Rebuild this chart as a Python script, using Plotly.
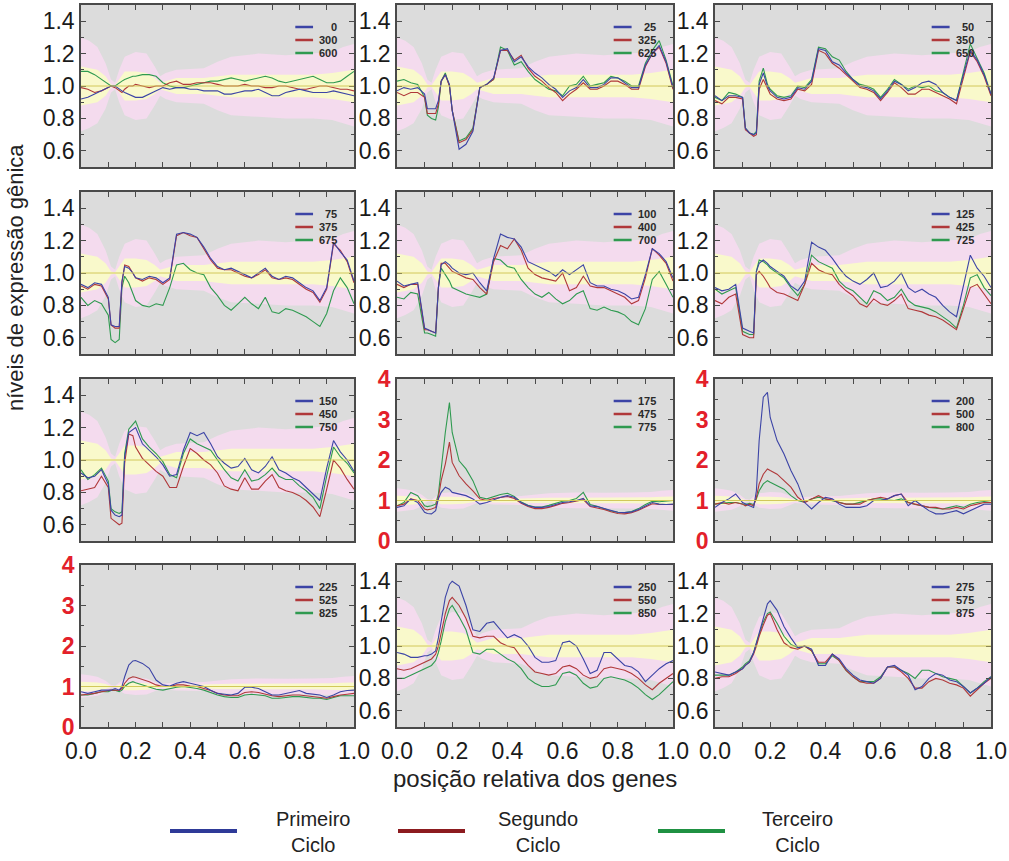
import plotly.graph_objects as go

# ---------------- data ----------------
x_pos = [0.0, 0.025, 0.05, 0.075, 0.1, 0.11, 0.125, 0.14, 0.15, 0.16, 0.175, 0.19, 0.2,
         0.225, 0.25, 0.275, 0.3, 0.325, 0.35, 0.375, 0.4, 0.425, 0.45, 0.475, 0.5,
         0.525, 0.55, 0.575, 0.6, 0.625, 0.65, 0.675, 0.7, 0.725, 0.75, 0.775, 0.8,
         0.825, 0.85, 0.875, 0.9, 0.925, 0.95, 0.975, 1.0]

band_x = [0.0, 0.03, 0.06, 0.09, 0.11, 0.125, 0.14, 0.16, 0.2, 0.24, 0.27, 0.29, 0.31,
          0.35, 0.45, 0.5, 0.55, 0.65, 0.75, 0.85, 0.92, 0.96, 1.0]
pink_lo = [0.72, 0.74, 0.77, 0.86, 0.96, 0.98, 0.90, 0.82, 0.79, 0.80, 0.88, 0.94, 0.92,
           0.90, 0.89, 0.85, 0.82, 0.81, 0.80, 0.80, 0.79, 0.77, 0.75]
pink_hi = [1.30, 1.28, 1.24, 1.14, 1.04, 1.02, 1.10, 1.18, 1.21, 1.20, 1.12, 1.06, 1.08,
           1.10, 1.11, 1.15, 1.18, 1.20, 1.19, 1.20, 1.21, 1.24, 1.26]
yel_lo = [0.88, 0.89, 0.90, 0.94, 0.99, 0.995, 0.96, 0.91, 0.91, 0.92, 0.95, 0.98, 0.97,
          0.95, 0.95, 0.94, 0.93, 0.93, 0.93, 0.93, 0.92, 0.91, 0.90]
yel_hi = [1.12, 1.11, 1.10, 1.06, 1.01, 1.005, 1.04, 1.09, 1.09, 1.08, 1.05, 1.02, 1.03,
          1.05, 1.05, 1.06, 1.07, 1.07, 1.07, 1.07, 1.08, 1.09, 1.10]

# panel 1
blue_0 = [.92, .93, .95, .97, .99, 1.0, 1.0, .98, .97, .96, .95, .94, .93,
          .93, .95, .97, .99, .98, .99, .99, .98, .98, .97, .97, .97,
          .95, .95, .96, .97, .97, .98, .96, .94, .94, .96, .97, .98,
          .97, .96, .96, .96, .97, .96, .95, .94]
red_300 = [.99, .98, .96, .97, .99, 1.0, .99, .97, .96, .98, 1.0, 1.0, 1.01,
           1.0, .99, 1.0, 1.0, 1.02, 1.03, 1.01, 1.01, 1.02, 1.02, 1.02, 1.01,
           1.0, 1.0, 1.0, 1.01, 1.0, 1.0, .99, .99, 1.0, 1.0, .99, .98,
           .98, .99, 1.0, 1.0, .99, .98, .98, .97]
green_600 = [1.09, 1.09, 1.07, 1.04, 1.01, 1.0, 1.0, 1.02, 1.03, 1.04, 1.05, 1.06, 1.06,
             1.07, 1.07, 1.06, 1.02, 1.0, .99, .99, 1.0, 1.01, 1.02, 1.03, 1.03,
             1.04, 1.05, 1.04, 1.03, 1.04, 1.05, 1.06, 1.05, 1.03, 1.02, 1.03, 1.04,
             1.05, 1.06, 1.04, 1.02, 1.02, 1.03, 1.06, 1.09]
# panel 2
blue_25 = [.97, .99, .98, .99, .95, .86, .86, .86, .91, 1.03, 1.07, 1.01, .85,
           .61, .64, .72, .99, 1.01, 1.05, 1.22, 1.23, 1.15, 1.18, 1.12, 1.08,
           1.05, 1.01, .98, .93, .97, .99, 1.04, .99, .99, 1.01, 1.05, 1.05,
           1.02, .99, .99, 1.13, 1.20, 1.25, 1.15, .99]
red_325 = [.96, .94, .96, .96, .93, .83, .83, .83, .89, 1.03, 1.07, 1.0, .85,
           .65, .67, .73, .99, 1.01, 1.04, 1.22, 1.22, 1.16, 1.19, 1.11, 1.06,
           1.03, .99, .96, .91, .95, .98, 1.02, .98, .98, 1.0, 1.03, 1.03,
           1.01, .98, .98, 1.12, 1.20, 1.24, 1.14, .98]
green_625 = [1.03, 1.04, 1.02, 1.01, .93, .82, .80, .79, .87, 1.03, 1.08, 1.0, .85,
             .66, .68, .74, .99, 1.01, 1.04, 1.24, 1.22, 1.13, 1.15, 1.09, 1.04,
             1.01, .98, .97, .94, 1.0, 1.01, 1.06, 1.0, 1.01, 1.02, 1.06, 1.05,
             1.03, 1.0, 1.0, 1.14, 1.22, 1.28, 1.16, 1.0]
# panel 3
blue_50 = [.94, .91, .94, .94, .93, .74, .71, .70, .71, 1.01, 1.08, 1.0, .97,
           .93, .92, .93, .99, .98, 1.03, 1.23, 1.22, 1.15, 1.13, 1.08, 1.04,
           1.0, .99, .97, .92, .97, 1.03, 1.01, .97, .99, 1.02, 1.03, 1.01,
           .96, .93, .91, 1.07, 1.22, 1.16, 1.07, .95]
red_350 = [.91, .89, .93, .93, .92, .73, .71, .69, .70, .98, 1.04, .99, .95,
           .92, .91, .92, .98, .97, 1.01, 1.22, 1.20, 1.14, 1.11, 1.07, 1.03,
           .99, .98, .96, .91, .96, 1.02, .99, .95, .95, .98, .98, .96,
           .94, .92, .89, 1.05, 1.21, 1.15, 1.06, .94]
green_650 = [.93, .91, .96, .95, .93, .74, .71, .70, .72, 1.03, 1.11, 1.01, .98,
             .94, .93, .94, 1.0, .99, 1.04, 1.24, 1.23, 1.18, 1.16, 1.09, 1.04,
             1.01, 1.0, .98, .93, .98, 1.04, 1.01, .98, 1.0, .99, 1.0, .97,
             .96, .93, .91, 1.08, 1.26, 1.17, 1.08, .95]
# panel 4
blue_75 = [.93, .91, .94, .93, .85, .68, .67, .67, .95, 1.04, 1.03, 1.0, .97,
           .96, .98, .97, .94, .97, 1.24, 1.25, 1.24, 1.22, 1.16, 1.09, 1.04,
           1.02, 1.03, 1.01, .99, .97, 1.0, 1.03, .98, .96, .98, .97, .94,
           .91, .89, .83, .91, 1.19, 1.13, 1.08, .95]
red_375 = [.92, .90, .93, .92, .84, .68, .66, .66, .94, 1.05, 1.04, 1.0, .97,
           .95, .97, .96, .93, .96, 1.23, 1.25, 1.23, 1.22, 1.15, 1.08, 1.03,
           1.02, 1.02, 1.0, .98, .97, .99, 1.02, .97, .96, .97, .96, .93,
           .90, .88, .82, .90, 1.18, 1.14, 1.07, .94]
green_675 = [.85, .80, .83, .81, .74, .59, .57, .59, .91, .98, .94, .88, .83,
             .80, .79, .81, .80, .91, 1.05, 1.06, 1.02, 1.0, .99, .91, .86,
             .80, .77, .81, .85, .81, .78, .85, .76, .75, .78, .77, .75,
             .73, .70, .67, .75, .89, .97, .91, .81]
# panel 5
blue_100 = [.95, .92, .93, .94, .66, .65, .64, .63, .91, 1.05, 1.07, 1.05, 1.03,
            1.0, .99, 1.0, .94, .89, 1.09, 1.24, 1.22, 1.21, 1.16, 1.07, 1.05,
            1.03, 1.01, .98, 1.02, .99, 1.02, 1.05, .94, .92, .92, .90, .89,
            .87, .84, .85, .99, 1.15, 1.12, 1.07, .97]
red_400 = [.93, .91, .93, .93, .65, .65, .64, .63, .91, 1.06, 1.06, 1.03, 1.01,
           .99, .97, .96, .91, .87, 1.07, 1.17, 1.15, 1.21, 1.14, 1.03, .99,
           .97, .96, .95, 1.0, .89, .91, .98, .92, .91, .91, .89, .87,
           .85, .81, .83, .97, 1.15, 1.11, 1.06, .95]
green_700 = [.85, .84, .88, .87, .63, .63, .62, .61, .91, 1.03, .99, .95, .91,
             .89, .87, .86, .85, .87, 1.09, 1.08, 1.04, 1.03, .96, .91, .87,
             .85, .88, .84, .81, .83, .87, .89, .78, .77, .79, .77, .76,
             .74, .70, .68, .78, .96, 1.01, .93, .85]
# panel 6
blue_125 = [.91, .89, .90, .93, .66, .65, .64, .63, 1.01, 1.06, 1.08, 1.06, 1.04,
            1.01, .98, .92, .89, .95, 1.19, 1.16, 1.14, 1.09, 1.03, .98, .95,
            .93, .96, 1.0, .91, .92, .95, 1.0, .91, .88, .90, .87, .85,
            .80, .76, .73, .91, 1.11, 1.03, .98, .91]
red_425 = [.83, .81, .85, .87, .62, .61, .60, .60, .99, 1.01, .98, .94, .91,
           .88, .87, .85, .83, .93, 1.06, 1.02, 1.0, .99, .93, .89, .86,
           .81, .79, .84, .81, .80, .83, .87, .78, .77, .76, .74, .73,
           .71, .68, .65, .78, .91, .93, .87, .81]
green_725 = [.90, .87, .89, .91, .64, .63, .62, .62, 1.01, 1.08, 1.07, 1.05, 1.03,
             1.0, .97, .91, .86, .93, 1.11, 1.07, 1.05, 1.03, .95, .91, .89,
             .85, .81, .89, .87, .83, .85, .90, .83, .80, .79, .78, .76,
             .73, .70, .66, .80, .97, .99, .91, .86]
# panel 7
blue_150 = [.92, .89, .90, .94, .85, .69, .66, .65, .66, 1.02, 1.17, 1.19, 1.20,
            1.10, 1.06, 1.02, .97, .90, .91, 1.06, 1.17, 1.15, 1.17, 1.10, 1.02,
            .98, .95, .96, 1.01, .94, .92, .96, 1.02, .94, .92, .89, .87,
            .83, .79, .75, .95, 1.12, 1.05, 1.0, .93]
red_450 = [.81, .82, .83, .90, .83, .64, .62, .60, .61, .98, 1.16, 1.15, 1.08,
           1.01, .97, .93, .90, .83, .83, .96, 1.07, 1.04, 1.0, .97, .92,
           .84, .82, .81, .89, .82, .82, .87, .91, .83, .81, .80, .78,
           .75, .71, .65, .82, 1.0, .95, .88, .82]
green_750 = [.94, .88, .91, .95, .87, .70, .68, .67, .68, 1.04, 1.19, 1.22, 1.24,
             1.13, 1.08, 1.04, .99, .91, .89, 1.04, 1.13, 1.10, 1.08, 1.06, 1.0,
             .94, .89, .87, .94, .87, .88, .91, .95, .90, .88, .88, .84,
             .81, .77, .70, .90, 1.08, 1.02, .98, .92]
# panel 8 (0-4 scale)
blue_175 = [.83, .87, 1.04, .95, .71, .68, .67, .75, 1.04, 1.2, 1.33, 1.28, 1.2,
            1.16, 1.12, 1.04, .91, .95, 1.02, 1.08, 1.12, 1.08, .95, .87, .83,
            .83, .85, .90, .95, .97, 1.0, 1.05, .87, .85, .80, .75, .71,
            .70, .72, .78, .87, .95, .91, .90, .91]
red_475 = [.87, .91, 1.04, 1.0, .79, .77, .79, .83, 1.08, 1.49, 1.90, 2.44, 1.94,
           1.61, 1.41, 1.24, 1.04, 1.0, 1.05, 1.08, 1.1, 1.05, .93, .85, .80,
           .80, .83, .88, .93, .95, .98, 1.02, .85, .82, .78, .72, .68,
           .67, .70, .76, .85, .92, .90, .90, .90]
green_775 = [.87, .95, 1.2, 1.12, .87, .85, .87, .91, 1.16, 1.82, 2.68, 3.42, 2.68,
             1.98, 1.78, 1.49, 1.08, 1.04, 1.10, 1.15, 1.18, 1.10, .96, .88, .84,
             .84, .88, .93, .98, 1.0, 1.05, 1.2, .90, .86, .80, .74, .71,
             .70, .73, .80, .90, .98, .97, .98, 1.0]
# panel 9 (0-4 scale)
blue_200 = [.83, .95, 1.04, 1.16, .95, .91, .87, .83, 1.24, 2.48, 3.55, 3.67, 3.05,
            2.48, 2.15, 1.74, 1.41, .95, .79, .95, 1.08, 1.04, .91, .83, .83,
            .83, .87, 1.0, 1.0, 1.04, 1.12, 1.16, .87, 1.0, .87, .75, .67,
            .67, .71, .75, .67, .75, .83, .91, .91]
red_500 = [.91, .95, .91, .95, .91, .87, .91, .87, 1.08, 1.41, 1.65, 1.78, 1.74,
           1.65, 1.49, 1.33, 1.08, .95, 1.04, 1.12, 1.04, 1.01, .95, .91, .91,
           .91, 1.0, 1.04, 1.08, 1.04, 1.12, 1.16, .95, .91, .87, .83, .83,
           .79, .79, .83, .79, .87, .91, .95, .95]
green_800 = [.91, .93, .95, .95, .91, .90, .93, .90, 1.04, 1.24, 1.41, 1.49, 1.45,
             1.37, 1.28, 1.12, 1.0, .95, 1.04, 1.08, 1.04, 1.0, .95, .91, .91,
             .95, 1.0, 1.04, 1.04, 1.01, 1.0, 1.04, .95, .90, .87, .83, .81,
             .79, .83, .87, .83, .91, .95, .98, 1.0]
# panel 10 (0-4 scale)
blue_225 = [.87, .83, .87, .91, .91, .91, .95, .91, 1.0, 1.24, 1.53, 1.63, 1.64,
            1.57, 1.45, 1.16, 1.04, 1.01, 1.08, 1.12, 1.08, 1.04, 1.0, .91, .83,
            .81, .79, .83, .98, .98, .95, .87, .79, .79, .83, .87, .90,
            .83, .81, .79, .73, .79, .87, .90, .91]
red_525 = [.79, .81, .83, .87, .90, .91, .91, .90, .95, 1.08, 1.20, 1.24, 1.23,
           1.18, 1.12, 1.04, 1.0, 1.0, 1.04, 1.04, 1.01, 1.0, .95, .90, .83,
           .79, .77, .77, .85, .87, .85, .81, .77, .75, .77, .79, .79,
           .77, .75, .73, .71, .75, .79, .81, .83]
green_825 = [.79, .79, .83, .87, .87, .90, .91, .87, .91, 1.0, 1.08, 1.12, 1.09,
             1.04, .98, .93, .91, .95, .98, 1.0, .98, .95, .91, .85, .79,
             .75, .73, .73, .79, .81, .79, .77, .71, .71, .73, .75, .75,
             .73, .71, .71, .68, .73, .77, .77, .77]
# panel 11
blue_250 = [.96, .95, .93, .93, .94, .94, .95, .97, 1.05, 1.15, 1.30, 1.38, 1.40,
            1.37, 1.25, 1.10, 1.09, 1.14, 1.15, 1.10, 1.05, 1.07, 1.05, 1.0, .93,
            .90, .90, .91, 1.02, 1.03, 1.0, .92, .83, .85, .96, .96, .92,
            .88, .87, .84, .78, .82, .86, .89, .91]
red_550 = [.86, .85, .86, .88, .90, .91, .92, .95, 1.0, 1.08, 1.2, 1.28, 1.30,
           1.25, 1.17, 1.06, 1.05, 1.06, 1.06, 1.02, 1.0, .99, .93, .88, .84,
           .83, .82, .83, .87, .88, .86, .82, .80, .81, .86, .87, .86,
           .85, .83, .80, .76, .73, .77, .80, .83]
green_850 = [.80, .80, .82, .84, .86, .87, .88, .91, .96, 1.03, 1.15, 1.23, 1.25,
             1.18, 1.10, .96, .95, .98, .98, .95, .92, .90, .86, .80, .77,
             .75, .75, .76, .83, .84, .82, .77, .74, .75, .80, .81, .80,
             .79, .77, .74, .70, .67, .70, .74, .78]
# panel 12
blue_275 = [.84, .83, .82, .84, .86, .88, .90, .96, 1.02, 1.09, 1.18, 1.26, 1.28,
            1.22, 1.12, 1.05, .99, 1.0, .98, .88, .88, .95, .92, .86, .82,
            .79, .78, .77, .80, .87, .88, .85, .82, .73, .75, .80, .83,
            .82, .79, .78, .75, .71, .74, .77, .81]
red_575 = [.80, .81, .81, .83, .86, .88, .90, .95, 1.0, 1.06, 1.13, 1.19, 1.20,
           1.10, 1.02, .99, .98, 1.0, .97, .90, .90, .95, .91, .85, .81,
           .78, .77, .77, .80, .87, .87, .84, .80, .74, .74, .78, .80,
           .79, .77, .76, .74, .69, .73, .77, .80]
green_875 = [.82, .82, .82, .84, .87, .89, .91, .96, 1.01, 1.07, 1.15, 1.20, 1.21,
             1.14, 1.06, 1.01, .99, 1.0, .97, .89, .89, .94, .91, .85, .81,
             .78, .78, .78, .81, .87, .87, .85, .83, .80, .85, .85, .83,
             .81, .80, .79, .75, .71, .74, .78, .81]

panel_labels = [("0", "300", "600"), ("25", "325", "625"), ("50", "350", "650"),
                ("75", "375", "675"), ("100", "400", "700"), ("125", "425", "725"),
                ("150", "450", "750"), ("175", "475", "775"), ("200", "500", "800"),
                ("225", "525", "825"), ("250", "550", "850"), ("275", "575", "875")]
panel_series = [(blue_0, red_300, green_600), (blue_25, red_325, green_625),
                (blue_50, red_350, green_650), (blue_75, red_375, green_675),
                (blue_100, red_400, green_700), (blue_125, red_425, green_725),
                (blue_150, red_450, green_750), (blue_175, red_475, green_775),
                (blue_200, red_500, green_800), (blue_225, red_525, green_825),
                (blue_250, red_550, green_850), (blue_275, red_575, green_875)]
wide_scale_panels = [7, 8, 9]
cycle_names = ["Primeiro<br>Ciclo", "Segundo<br>Ciclo", "Terceiro<br>Ciclo"]

for s in panel_series:
    for arr in s:
        assert len(arr) == len(x_pos), len(arr)

# ---------------- style ----------------
W, H = 1009, 861
line_colors = ["#3c44a6", "#b0383a", "#2f9a50"]
legend_colors = ["#2e3a98", "#8c1b1f", "#1f9142"]
pink = "#f4dbee"
yellow = "#f9f9cb"
frame = "#4a4a4a"
FONT = "Liberation Sans, Arial, sans-serif"

col_px = [(81, 354), (397, 673), (715, 991)]
row_px = [(5, 167), (192, 354), (379, 541), (565, 727)]

fig = go.Figure()
layout = dict(width=W, height=H, autosize=False,
              margin=dict(l=0, r=0, t=0, b=0, pad=0, autoexpand=False),
              paper_bgcolor="white", plot_bgcolor="#dcdcdc", showlegend=False)
shapes = []
annotations = []

for i in range(12):
    r, c = divmod(i, 3)
    n = "" if i == 0 else str(i + 1)
    xa, ya = "x" + n, "y" + n
    x0p, x1p = col_px[c]
    y0p, y1p = row_px[r]
    xd = [x0p / W, x1p / W]
    yd = [1 - y1p / H, 1 - y0p / H]
    wide = i in wide_scale_panels

    fig.add_trace(go.Scatter(x=band_x + band_x[::-1], y=pink_hi + pink_lo[::-1],
                             fill="toself", fillcolor=pink, line=dict(width=0),
                             mode="lines", hoverinfo="skip", xaxis=xa, yaxis=ya))
    fig.add_trace(go.Scatter(x=band_x + band_x[::-1], y=yel_hi + yel_lo[::-1],
                             fill="toself", fillcolor=yellow, line=dict(width=0),
                             mode="lines", hoverinfo="skip", xaxis=xa, yaxis=ya))
    shapes.append(dict(type="line", xref=xa + " domain", yref=ya, x0=0, x1=1, y0=1, y1=1,
                       line=dict(color="#d2c85a", width=1)))
    for k in (2, 1, 0):
        fig.add_trace(go.Scatter(x=x_pos, y=panel_series[i][k], mode="lines",
                                 line=dict(color=line_colors[k], width=1.1),
                                 name=panel_labels[i][k], xaxis=xa, yaxis=ya))

    axis_common = dict(showgrid=False, zeroline=False, showline=True, linecolor=frame,
                       linewidth=1.5, mirror="ticks", ticks="inside", ticklen=5,
                       tickwidth=1.2, tickcolor=frame, automargin=False)
    layout["xaxis" + n] = dict(domain=xd, range=[0, 1], anchor=ya, tick0=0, dtick=0.2,
                               tickformat=".1f", showticklabels=(r == 3),
                               ticklabelstandoff=3,
                               tickfont=dict(family=FONT, size=23, color="#1a1a1a"),
                               minor=dict(dtick=0.1, ticks="inside", ticklen=5,
                                          tickcolor=frame, tickwidth=1.2),
                               **axis_common)
    if wide:
        layout["yaxis" + n] = dict(domain=yd, range=[0, 4], anchor=xa, tick0=0, dtick=1,
                                   tickformat="d",
                                   tickfont=dict(family=FONT, size=23, color="#e3202a",
                                                 weight="bold"),
                                   minor=dict(dtick=0.5, ticks="inside", ticklen=3,
                                              tickcolor=frame, tickwidth=1.2),
                                   **axis_common)
    else:
        layout["yaxis" + n] = dict(domain=yd, range=[0.5, 1.5], anchor=xa, tick0=0,
                                   dtick=0.2, tickformat=".1f",
                                   tickfont=dict(family=FONT, size=23, color="#1a1a1a"),
                                   minor=dict(dtick=0.1, ticks="inside", ticklen=3,
                                              tickcolor=frame, tickwidth=1.2),
                                   **axis_common)

    # in-panel legend
    pw = (x1p - x0p)
    for k in range(3):
        ypx = y0p + 22 + 13 * k
        yy = 1 - ypx / H
        shapes.append(dict(type="line", xref="paper", yref="paper",
                           x0=(x0p + 0.785 * pw) / W, x1=(x0p + 0.85 * pw) / W,
                           y0=yy, y1=yy, line=dict(color=line_colors[k], width=2.5)))
        annotations.append(dict(text="<b>%s</b>" % panel_labels[i][k], xref="paper",
                                yref="paper", x=(x0p + 0.945 * pw) / W, y=yy,
                                xanchor="right", yanchor="middle", showarrow=False,
                                font=dict(family=FONT, size=11, color="#2a2a2a")))

# axis titles
annotations.append(dict(text="níveis de expressão gênica", xref="paper", yref="paper",
                        x=15 / W, y=1 - 278 / H, textangle=-90, showarrow=False,
                        xanchor="center", yanchor="middle",
                        font=dict(family=FONT, size=22, color="#222")))
annotations.append(dict(text="posição relativa dos genes", xref="paper", yref="paper",
                        x=535 / W, y=1 - 778 / H, showarrow=False,
                        xanchor="center", yanchor="middle",
                        font=dict(family=FONT, size=24, color="#222")))

# bottom legend
leg_lines = [(170, 237), (398, 465), (658, 725)]
leg_text_x = [313, 538, 797]
for k in range(3):
    a, b = leg_lines[k]
    shapes.append(dict(type="line", xref="paper", yref="paper", x0=a / W, x1=b / W,
                       y0=1 - 831 / H, y1=1 - 831 / H,
                       line=dict(color=legend_colors[k], width=4)))
    annotations.append(dict(text=cycle_names[k], xref="paper", yref="paper",
                            x=leg_text_x[k] / W, y=1 - 832 / H, showarrow=False,
                            xanchor="center", yanchor="middle", align="center",
                            font=dict(family=FONT, size=20, color="#222")))

layout["shapes"] = shapes
layout["annotations"] = annotations
fig.update_layout(**layout)
fig.write_html("out.html")
